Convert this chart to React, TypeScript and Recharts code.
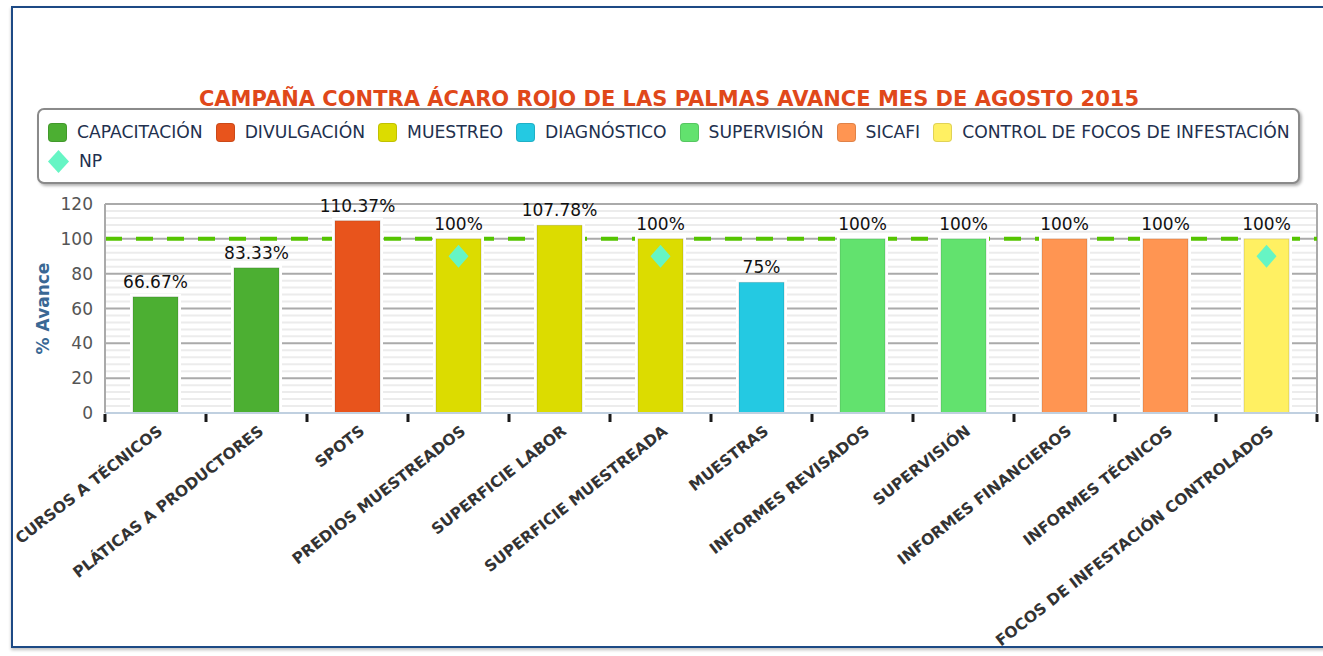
import {
  ComposedChart,
  Bar,
  Line,
  XAxis,
  YAxis,
  CartesianGrid,
  ReferenceLine,
  LabelList,
  Legend,
} from "recharts";

const categories = [
  "CURSOS A TÉCNICOS",
  "PLÁTICAS A PRODUCTORES",
  "SPOTS",
  "PREDIOS MUESTREADOS",
  "SUPERFICIE LABOR",
  "SUPERFICIE MUESTREADA",
  "MUESTRAS",
  "INFORMES REVISADOS",
  "SUPERVISIÓN",
  "INFORMES FINANCIEROS",
  "INFORMES TÉCNICOS",
  "FOCOS DE INFESTACIÓN CONTROLADOS",
];
const avance = [66.67, 83.33, 110.37, 100, 107.78, 100, 75, 100, 100, 100, 100, 100];
const np = [null, null, null, 90, null, 90, null, null, null, null, null, 90];

const seriesNames = [
  "CAPACITACIÓN",
  "DIVULGACIÓN",
  "MUESTREO",
  "DIAGNÓSTICO",
  "SUPERVISIÓN",
  "SICAFI",
  "CONTROL DE FOCOS DE INFESTACIÓN",
];
const seriesColors = ["#4caf32", "#e8541c", "#dcdc00", "#24c9e2", "#62e26e", "#ff9552", "#fff062"];
// which legend series each category belongs to
const seriesOf = [0, 0, 1, 2, 2, 2, 3, 4, 4, 5, 5, 6];

const yTicks = [0, 20, 40, 60, 80, 100, 120];
const META = 100;
const NP_COLOR = "#66f5c4";

const W = 1323;
const H = 656;
const M = { top: 204, right: 6, bottom: 43, left: 0 };
const Y_W = 105;
const BAND = (W - M.left - M.right - Y_W) / categories.length;
const FONT = "'DejaVu Sans', Verdana, sans-serif";

const data = categories.map((name, i) => ({ name, avance: avance[i], np: np[i] }));

const BarShape = (props: any) => {
  const { x, y, width, height, index } = props;
  const c = seriesColors[seriesOf[index]];
  return (
    <g>
      <rect x={x - 3} y={y - 3} width={width + 6} height={height + 3} fill="#fff" />
      <rect x={x} y={y} width={width} height={height} fill={c} stroke="rgba(0,0,0,0.14)" strokeWidth={1} />
    </g>
  );
};

const Diamond = (props: any) => {
  const { cx, cy, index } = props;
  if (cx == null || cy == null || np[index] == null) return <g key={index} />;
  return (
    <path
      key={index}
      d={`M${cx},${cy - 11.5} L${cx + 10},${cy} L${cx},${cy + 11.5} L${cx - 10},${cy} Z`}
      fill={NP_COLOR}
    />
  );
};

const XTick = (props: any) => {
  const { x, y, payload, index } = props;
  const tx = x + 8;
  const ty = y + 20;
  return (
    <g>
      <rect x={x - BAND / 2 - 1.5} y={y + 1} width={3} height={8} fill="#1a1a1a" />
      {index === categories.length - 1 && (
        <rect x={x + BAND / 2 - 1.5} y={y + 1} width={3} height={8} fill="#1a1a1a" />
      )}
      <text
        x={tx}
        y={ty}
        textAnchor="end"
        transform={`rotate(-38 ${tx} ${ty})`}
        fontFamily={FONT}
        fontWeight="bold"
        fontSize={15.5}
        fill="#333"
      >
        {payload.value}
      </text>
    </g>
  );
};

const LegendBox = () => (
  <div
    style={{
      boxSizing: "border-box",
      width: 1263,
      height: 76,
      border: "2px solid #8a8a8a",
      borderRadius: 7,
      boxShadow: "2px 2px 3px rgba(0,0,0,0.3)",
      background: "#fff",
      padding: "11px 0 0 9px",
      fontFamily: FONT,
      fontSize: 17.2,
      color: "#22304e",
    }}
  >
    <div style={{ display: "flex", alignItems: "center", height: 22, whiteSpace: "nowrap" }}>
      {seriesNames.map((n, i) => (
        <div key={n} style={{ display: "flex", alignItems: "center", marginRight: 13 }}>
          <span
            style={{
              display: "inline-block",
              width: 19,
              height: 19,
              borderRadius: 4,
              background: seriesColors[i],
              boxShadow: "inset 0 0 0 1px rgba(0,0,0,0.12)",
              marginRight: 10,
            }}
          />
          {n}
        </div>
      ))}
    </div>
    <div style={{ display: "flex", alignItems: "center", height: 22, marginTop: 7 }}>
      <svg width={21} height={23} style={{ marginRight: 10 }}>
        <path d="M10.5,0 L21,11.5 L10.5,23 L0,11.5 Z" fill={NP_COLOR} />
      </svg>
      NP
    </div>
  </div>
);

export default function App() {
  return (
    <div style={{ position: "absolute", left: 0, top: 0, width: W, height: H, overflow: "hidden", background: "#fff" }}>
      <div
        style={{
          position: "absolute",
          left: 11,
          top: 6,
          width: 1400,
          height: 638,
          border: "2px solid #1d4a85",
          boxShadow: "0 2px 3px rgba(0,0,0,0.25)",
        }}
      />
      <div
        style={{
          position: "absolute",
          left: 0,
          width: 1338,
          top: 87,
          textAlign: "center",
          fontFamily: FONT,
          fontWeight: "bold",
          fontSize: 21,
          color: "#e0481a",
        }}
      >
        CAMPAÑA CONTRA ÁCARO ROJO DE LAS PALMAS AVANCE MES DE AGOSTO 2015
      </div>
      <div style={{ position: "absolute", left: 0, top: 0 }}>
        <ComposedChart width={W} height={H} data={data} margin={M}>
          <CartesianGrid
            vertical={false}
            stroke="#ececec"
            strokeWidth={2}
            horizontalCoordinatesGenerator={({ offset }: any) => {
              const out: number[] = [];
              for (let v = 4; v < 120; v += 4) {
                if (v % 20 !== 0) out.push(offset.top + offset.height * (1 - v / 120));
              }
              return out;
            }}
          />
          <CartesianGrid
            stroke="#aaaaaa"
            strokeWidth={2}
            verticalCoordinatesGenerator={({ offset }: any) => [offset.left + offset.width]}
          />
          <XAxis
            dataKey="name"
            interval={0}
            height={200}
            tickLine={false}
            tickSize={0}
            tickMargin={0}
            axisLine={{ stroke: "#c0d0e0", strokeWidth: 2 }}
            tick={<XTick />}
          />
          <YAxis
            width={Y_W}
            domain={[0, 120]}
            ticks={yTicks}
            tickLine={false}
            tickSize={0}
            tickMargin={12}
            axisLine={{ stroke: "#aaaaaa", strokeWidth: 2 }}
            tick={{ fill: "#555", fontSize: 17, fontFamily: FONT }}
            label={{
              value: "% Avance",
              angle: -90,
              position: "center",
              dx: -10,
              style: { fill: "#3a6894", fontWeight: "bold", fontSize: 17, fontFamily: FONT },
            }}
          />
          <ReferenceLine
            y={META}
            stroke="#55c400"
            strokeWidth={4}
            strokeDasharray="17 14"
            zIndex={-10}
          />
          <Bar dataKey="avance" barSize={45} shape={<BarShape />} isAnimationActive={false}>
            <LabelList
              dataKey="avance"
              position="top"
              offset={9}
              formatter={(v: any) => `${v}%`}
              style={{ fill: "#111", fontSize: 17, fontFamily: FONT }}
            />
          </Bar>
          <Line
            dataKey="np"
            stroke="none"
            dot={<Diamond />}
            activeDot={false}
            isAnimationActive={false}
            connectNulls={false}
          />
          <Legend
            layout="horizontal"
            verticalAlign="middle"
            align="center"
            wrapperStyle={{ position: "absolute", left: 37, top: 108, width: 1263, height: 76 }}
            content={() => <LegendBox />}
          />
        </ComposedChart>
      </div>
    </div>
  );
}
